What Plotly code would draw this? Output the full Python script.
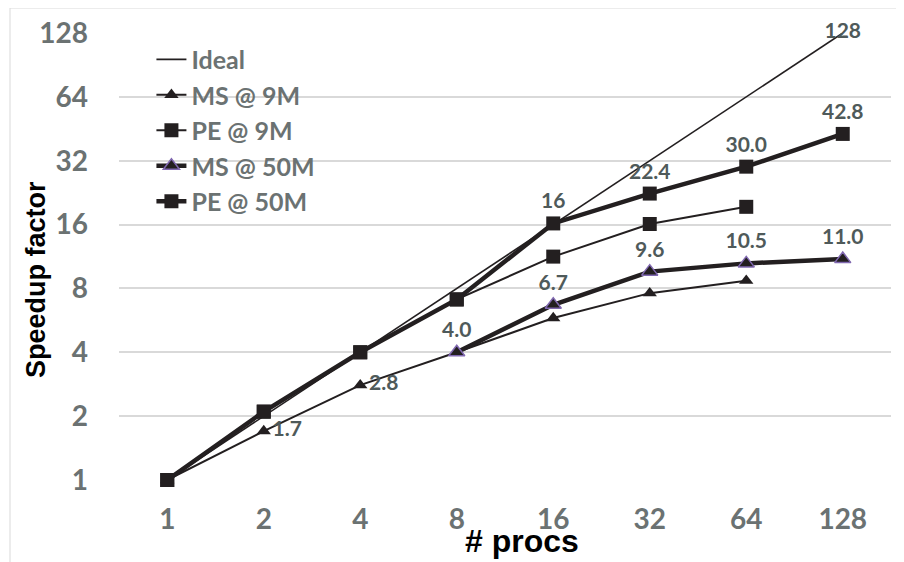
import plotly.graph_objects as go

procs = ["1", "2", "4", "8", "16", "32", "64", "128"]
ideal = [1, 2, 4, 8, 16, 32, 64, 128]
ms_9m = [1, 1.7, 2.8, 4.0, 5.8, 7.6, 8.7, None]
pe_9m = [1, 2.1, 4.0, 7.1, 11.3, 16.1, 19.4, None]
ms_50m = [None, None, None, 4.0, 6.7, 9.6, 10.5, 11.0]
pe_50m = [1, 2.1, 4.0, 7.1, 16.2, 22.4, 30.0, 42.8]
y_ticks = [1, 2, 4, 8, 16, 32, 64, 128]

ideal_text = ["", "", "", "", "16", "", "", "128"]
ms_9m_text = ["", "1.7", "2.8", "", "", "", "", ""]
ms_50m_text = ["", "", "", "4.0", "6.7", "9.6", "10.5", "11.0"]
pe_50m_text = ["", "", "", "", "", "22.4", "30.0", "42.8"]

LINE = "#231f20"
LBL = "#4f5a5a"
TICK = "#6b7272"
lab_font = dict(family="Lato", size=21, color=LBL, weight="bold")

fig = go.Figure()
fig.add_trace(go.Scatter(
    x=procs, y=ideal, name="Ideal", mode="lines+markers+text",
    line=dict(color=LINE, width=1.6),
    marker=dict(size=16, color="rgba(0,0,0,0)"),
    text=ideal_text,
    textposition=["top center"] * 7 + ["middle center"],
    textfont=lab_font, cliponaxis=False))
fig.add_trace(go.Scatter(
    x=procs, y=ms_9m, name="MS @ 9M", mode="lines+markers+text",
    line=dict(color=LINE, width=2),
    marker=dict(symbol="triangle-up", size=12.5, color=LINE),
    text=ms_9m_text,
    textposition=["middle right", "middle right", "middle right"] + ["top center"] * 5,
    textfont=lab_font, cliponaxis=False))
fig.add_trace(go.Scatter(
    x=procs, y=pe_9m, name="PE @ 9M", mode="lines+markers",
    line=dict(color=LINE, width=2),
    marker=dict(symbol="square", size=14, color=LINE), cliponaxis=False))
fig.add_trace(go.Scatter(
    x=procs, y=ms_50m, name="MS @ 50M", mode="lines+markers+text",
    line=dict(color=LINE, width=4.5),
    marker=dict(symbol="triangle-up", size=14, color=LINE,
                line=dict(color="#8068b0", width=1.5)),
    text=ms_50m_text, textposition="top center", textfont=lab_font,
    cliponaxis=False))
fig.add_trace(go.Scatter(
    x=procs, y=pe_50m, name="PE @ 50M", mode="lines+markers+text",
    line=dict(color=LINE, width=4.5),
    marker=dict(symbol="square", size=14, color=LINE),
    text=pe_50m_text, textposition="top center", textfont=lab_font,
    cliponaxis=False))

fig.update_layout(
    width=896, height=554,
    margin=dict(l=111, r=13, t=25, b=82, autoexpand=False),
    paper_bgcolor="white", plot_bgcolor="white",
    showlegend=True,
    legend=dict(x=0.042, y=0.992, xanchor="left", yanchor="top",
                bgcolor="rgba(0,0,0,0)",
                font=dict(family="Lato", size=25, color=TICK, weight="bold"),
                tracegroupgap=0),
    xaxis=dict(type="category", range=[-0.5, 7.5], showgrid=False,
               showline=False, zeroline=False, ticks="", automargin=False,
               tickfont=dict(family="Lato", size=28, color=TICK, weight="bold"),
               ticklabelstandoff=20),
    yaxis=dict(type="log", range=[0, 2.10721], tickvals=y_ticks,
               ticktext=[str(v) for v in y_ticks], automargin=False,
               showgrid=True, gridcolor="#d9d9d9", gridwidth=1.5,
               showline=False, zeroline=False, ticks="",
               tickfont=dict(family="Lato", size=28, color=TICK, weight="bold"),
               ticklabelstandoff=30),
    annotations=[
        dict(text="Speedup factor", xref="paper", yref="paper",
             x=(36 - 119) / 772, y=(480 - 280) / 447, showarrow=False,
             textangle=-90, xanchor="center", yanchor="middle",
             font=dict(family="Liberation Sans", size=27, color="black", weight="bold")),
        dict(text="# procs", xref="paper", yref="paper",
             x=(522 - 119) / 772, y=(480 - 541) / 447, showarrow=False,
             xanchor="center", yanchor="middle",
             font=dict(family="Liberation Sans", size=32, color="black", weight="bold")),
    ],
    shapes=[dict(type="rect", xref="paper", yref="paper",
                 x0=(10 - 119) / 772, x1=(910 - 119) / 772,
                 y0=(480 - 575) / 447, y1=1 + 25 / 447,
                 line=dict(color="#d9d9d9", width=1), layer="below")],
)

fig.write_html("out.html")
